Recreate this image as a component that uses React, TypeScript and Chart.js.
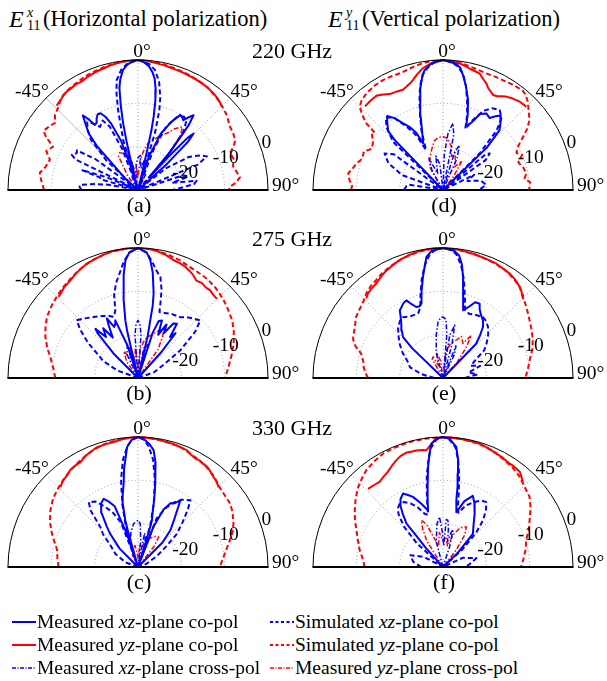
import React, { useEffect, useRef, useState } from "react";
import { Chart, registerables } from "chart.js";

Chart.register(...registerables);

type Pt = [number, number]; // [angle in degrees, normalized gain in dB]

// ---- radial scale ----
const DB_MIN = -30;
const DB_MAX = 0;
const RING_TICKS = [0, -10, -20];
const SPOKE_ANGLES = [-45, 0, 45];
const ANGLE_TICKS = [-45, 0, 45, 90];
const FREQ_LABELS = ["220 GHz", "275 GHz", "330 GHz"];
const PANEL_LETTERS = ["(a)", "(b)", "(c)", "(d)", "(e)", "(f)"];

// ---- (a) 220 GHz, E11x ----
const A_MXZ_CO: Pt[] = [[-90,-35],[-60,-32],[-48,-26],[-43,-16],[-41,-12.7],[-39,-11],[-36.5,-8.6],[-35,-10],[-33.5,-12],[-32,-11.8],[-30,-10.9],[-28,-10.2],[-26,-10.3],[-24,-11.5],[-22,-13.5],[-19,-18],[-16.5,-25],[-15,-30],[-14,-24],[-13.2,-18],[-12.5,-14],[-11.5,-10],[-10.3,-6],[-9,-4],[-7,-2],[-5,-1],[-2.5,-0.3],[0,0],[2.5,-0.4],[5,-1.3],[7,-2.6],[8.5,-4],[10,-6.5],[11,-9],[12,-12.5],[12.7,-16],[13,-20.5],[13.5,-26],[14.5,-30],[18,-22],[22,-16],[26,-12.5],[29.4,-10.1],[31.5,-10.4],[33,-10.8],[35,-9.5],[36.6,-8.5],[38,-11],[40,-18],[41.5,-26],[42.5,-20],[43.5,-13.5],[44.5,-11.7],[46,-14],[48,-21],[52,-30],[90,-35]];
const A_MYZ_CO: Pt[] = [[-44,-3],[-42.6,-2.8],[-40,-2.5],[-38,-2.1],[-36,-2],[-33,-1.9],[-30,-1.7],[-28,-1.8],[-26.4,-1.7],[-24,-1.4],[-22,-1.3],[-20,-1.1],[-17.6,-0.95],[-15,-0.8],[-12,-0.5],[-9.5,-0.35],[-7,-0.2],[-4,-0.1],[0,0],[4,-0.1],[8.5,-0.45],[12,-0.6],[15,-0.8],[18,-0.9],[21,-1],[24,-1.1],[28,-1.2],[31,-1.3],[34,-1.4],[38,-1.7],[41,-2],[43,-2.3],[45,-2.7]];
const A_SXZ_CO: Pt[] = [[-90,-17],[-87,-16.5],[-85,-16.5],[-82,-20],[-80,-23],[-77,-30],[-74,-21],[-72,-20.8],[-70.4,-16.2],[-68,-22],[-66,-30],[-64,-14],[-62,-12.7],[-59,-13.5],[-57,-13.2],[-54,-18],[-51,-30],[-47,-20],[-43,-14],[-40,-12],[-37,-10.5],[-34,-11.5],[-31,-13],[-27,-12],[-24,-14],[-21,-20],[-18.5,-30],[-16.5,-18],[-14,-11],[-12.5,-7],[-11,-4.2],[-8,-2],[-5,-0.8],[0,0],[5,-0.8],[8,-2],[11,-4.5],[13.5,-8],[15,-11],[16.5,-16],[18.5,-30],[21,-20],[24,-14],[28,-11],[32,-10],[35,-10.5],[38,-13],[41,-20],[45,-30],[52,-22],[57,-16],[61,-13.5],[64,-12.3],[67,-15],[69,-30],[72,-19],[75,-18],[78,-22],[81,-16.3],[84,-17],[87,-20],[90,-22]];
const A_SYZ_CO: Pt[] = [[-90,-8.3],[-88,-8.1],[-84,-7.5],[-80,-7],[-76,-8],[-71,-8.5],[-67,-7],[-63,-8],[-60,-5.5],[-58,-4.3],[-54,-4.8],[-51,-5.4],[-48,-4.2],[-44,-3.5],[-40,-2.4],[-35,-1.8],[-30,-1.5],[-25,-1.1],[-20,-0.8],[-15,-0.5],[-10,-0.3],[-5,-0.1],[0,0],[5,-0.1],[10,-0.3],[15,-0.6],[20,-0.8],[25,-1],[30,-1.2],[35,-1.5],[40,-2],[45,-2.6],[50,-3.2],[55,-4.2],[59,-4.4],[63,-4.8],[66,-6],[68,-7.1],[72,-6.8],[76,-7.4],[80,-6.8],[83,-6.3],[86,-7.5],[88,-8.8],[90,-9]];
const A_MXZ_X: Pt[] = [[-35,-30],[-25,-27],[-18,-25],[-12,-23.5],[-8,-27],[-4,-24],[0,-22.5],[4,-22],[8,-25],[12,-23],[16,-24.5],[20,-30],[26,-26],[32,-30]];
const A_MYZ_X: Pt[] = [[-45,-30],[-36,-26],[-30,-21],[-26,-20.4],[-21,-21],[-16,-20.4],[-12,-24],[-8,-30],[-4,-25],[0,-27],[4,-23],[8,-21],[12,-19],[17,-17.9],[22,-16.5],[27,-15.3],[31,-13.5],[35,-12.2],[38,-14],[40,-19],[43,-30]];

// ---- (b) 275 GHz, E11x ----
const B_MXZ_CO: Pt[] = [[-90,-35],[-50,-30],[-45,-22],[-42,-16],[-40.9,-15],[-38,-18],[-35,-16],[-32,-19],[-29,-16],[-27.6,-14.5],[-25,-17],[-23,-16.5],[-21.5,-15.7],[-18,-22],[-15,-30],[-13,-19],[-12.4,-16.4],[-10.5,-12],[-9.6,-10.3],[-8,-6],[-6.1,-2.7],[-4,-1],[0,0],[4,-1],[6,-2.7],[8,-5.5],[10.5,-10.2],[11.5,-13],[12,-16.4],[13,-20],[15,-30],[18,-19],[20,-16],[22.6,-15.6],[25,-19],[28,-16],[30,-18],[33,-15],[35.7,-14.6],[38,-18],[40,-16.5],[42,-22],[45,-30],[90,-35]];
const B_MYZ_CO: Pt[] = [[-44.4,-3.8],[-42,-3.5],[-39,-3],[-34.7,-2.6],[-31,-2],[-28,-1.6],[-24,-1.1],[-20,-0.8],[-16,-0.5],[-12.4,-0.2],[-8,-0.1],[-4,0],[0,0],[4,-0.1],[8,-0.3],[12,-0.8],[14.5,-1.2],[16.9,-1.6],[20,-1.8],[23,-2.1],[25.2,-2.5],[28,-3],[31,-3.8],[34,-3.6],[37,-3.9],[39.5,-3.8],[42,-4.1],[44.9,-4.2]];
const B_SXZ_CO: Pt[] = [[-90,-30],[-70,-25],[-64,-21],[-61,-20],[-55,-16],[-50,-12.5],[-46.6,-10.6],[-42,-11.5],[-36,-12.6],[-30,-13.5],[-25,-14.2],[-21.8,-14.8],[-19.5,-14],[-18.5,-13.5],[-16,-10],[-13,-7.5],[-10,-5.5],[-7,-3],[-4,-1],[0,0],[4,-1],[7,-3],[10,-5],[12.5,-6.1],[15,-9],[16.7,-12],[18,-14],[22,-13.8],[28,-13.3],[34.8,-12.9],[40,-11.8],[47.2,-10.4],[51,-13],[56.8,-18.3],[62,-23],[70,-26],[90,-30]];
const B_SYZ_CO: Pt[] = [[-90,-10.9],[-84,-10.4],[-80,-9.8],[-76.5,-9.2],[-72,-8],[-66,-6.6],[-61,-5.6],[-56.2,-4.7],[-50,-4],[-44.4,-3.4],[-40,-2.9],[-35,-2.4],[-30,-1.8],[-25,-1.2],[-20,-0.8],[-15,-0.4],[-10,-0.2],[-5,0],[0,0],[5,-0.1],[10,-0.4],[15,-0.8],[20,-1.2],[23.5,-1.6],[28,-1.9],[31,-2],[34.8,-2.1],[40,-2.5],[44,-2.9],[47.8,-3.3],[52,-3.8],[58.5,-4.5],[64,-5.4],[70,-6.5],[75,-7.5],[79,-8.3],[84,-9.1],[89,-9.8],[90,-9.8]];
const B_MXZ_X: Pt[] = [[-35,-30],[-25,-24],[-18,-22],[-12,-25],[-7,-30],[-4,-20],[-2,-17.5],[0,-16.7],[2,-17.5],[4,-20],[7,-30],[11,-23],[16,-22],[22,-30]];
const B_MYZ_X: Pt[] = [[-45,-30],[-35,-25.5],[-28,-23],[-22,-25],[-15,-22.5],[-10,-26],[-5,-23],[0,-28],[5,-23],[10,-21],[15,-20],[20,-19],[24,-18],[27.5,-17.2],[31,-19],[35,-22],[40,-30]];

// ---- (c) 330 GHz, E11x ----
const C_MXZ_CO: Pt[] = [[-90,-35],[-55,-30],[-45,-24],[-40,-20],[-37.8,-18.3],[-34,-15],[-30,-13],[-26.7,-12.4],[-24,-13.5],[-21,-15],[-18.5,-22],[-17,-30],[-15.8,-22],[-15.2,-18.8],[-13.5,-15],[-12,-13],[-9.8,-10.5],[-8,-7],[-5.2,-2.2],[-3,-0.7],[0,0],[3,-0.6],[5.5,-1.6],[7.6,-2.8],[9.5,-5.5],[11.7,-10.4],[13.5,-14],[15,-17],[16.7,-18.8],[17.5,-24],[19,-30],[21,-20],[24,-15.5],[27,-13.5],[30,-13],[32.4,-11.8],[34,-13.5],[37,-16],[41.4,-18.7],[45,-22],[50,-30],[90,-35]];
const C_MYZ_CO: Pt[] = [[-44.2,-4.3],[-41,-3.6],[-38,-3.3],[-35,-2.7],[-32,-2.5],[-28.8,-2.4],[-25,-1.6],[-22,-1.2],[-18.9,-0.8],[-15,-0.7],[-11,-0.6],[-7,-0.3],[-3,-0.1],[0,0],[4,-0.1],[8,-0.2],[13,-0.4],[17,-0.5],[20,-0.7],[22.8,-0.8],[25,-1.3],[27.9,-1.7],[30,-1.6],[32,-1.8],[34.6,-1.9],[37,-2.3],[40,-2.9],[42.5,-3.2],[45.2,-3.8]];
const C_SXZ_CO: Pt[] = [[-90,-30],[-70,-27],[-60,-24],[-52,-22],[-47,-19],[-43.3,-17.3],[-40,-13],[-37.2,-11.2],[-33,-12],[-29,-14],[-25,-16],[-21,-19],[-18.5,-28],[-16.5,-20],[-14,-15],[-11,-9.5],[-8,-5],[-5,-2],[-2.5,-0.5],[0,0],[2.5,-0.5],[5,-2],[8,-5],[11,-9.5],[14,-15],[16.5,-20],[18.5,-28],[21,-18],[25,-15],[29,-13],[33,-11.5],[38.1,-10.4],[41,-12.5],[45,-15.5],[49.5,-18.2],[54,-22],[60,-25],[70,-28],[90,-30]];
const C_SYZ_CO: Pt[] = [[-90,-11.7],[-84,-11.3],[-78,-10.9],[-73,-9.8],[-68.8,-8.7],[-63,-7.2],[-57,-5.9],[-51,-4.8],[-46,-4.2],[-42,-3.7],[-38,-3.2],[-34,-2.7],[-30,-2.2],[-25,-1.6],[-20,-1],[-15,-0.6],[-10,-0.3],[-5,-0.1],[0,0],[5,-0.1],[10,-0.3],[15,-0.5],[20,-0.7],[25,-1.2],[30,-1.6],[35,-2.1],[40,-2.7],[45,-3.6],[50,-4],[55.6,-4.2],[60,-4.8],[65.6,-5.8],[70,-6.8],[75.6,-8.4],[80,-9.5],[85,-10.4],[88.8,-11],[90,-11]];
const C_MXZ_X: Pt[] = [[-30,-30],[-20,-25],[-12,-22],[-6,-20],[-2,-19.5],[0,-19.2],[3,-20],[6,-24],[8,-30],[11,-22],[14,-23],[18,-25],[22,-30]];
const C_MYZ_X: Pt[] = [[-35,-30],[-25,-27],[-15,-26],[-8,-25],[-3,-27],[0,-28],[5,-25],[10,-25.5],[15,-24],[20,-23],[25,-22.5],[30,-21.8],[34.6,-21.6],[38,-24],[42,-30]];

// ---- (d) 220 GHz, E11y ----
const D_MXZ_CO: Pt[] = [[-90,-35],[-50,-30],[-44,-14],[-43,-11.5],[-40,-10],[-37,-8.6],[-34,-10],[-31,-12],[-28,-13.5],[-25,-15.5],[-23,-18.3],[-20,-16],[-17,-12.5],[-15,-9.5],[-12.5,-6],[-10,-3],[-8.7,-2],[-5.3,-0.7],[0,0],[6,-0.7],[8,-1.5],[9.9,-3.1],[12.5,-5.5],[15.5,-8.4],[18,-11.5],[20,-14.4],[23,-13],[26,-10.5],[29.5,-9.7],[33,-10.2],[35,-9.3],[37.5,-8.3],[40,-9.3],[43.4,-11],[46,-16],[50,-30],[90,-35]];
const D_MYZ_CO: Pt[] = [[-43,-3.6],[-40,-3.5],[-37,-3.4],[-35,-3.4],[-32,-4],[-29,-4.7],[-25,-4.9],[-21.8,-5.1],[-19,-4.6],[-17,-4.2],[-15.3,-3.7],[-13,-2.8],[-11,-2.1],[-9.3,-1.5],[-7,-1],[-4,-0.4],[-2,-0.1],[0,0],[2,-0.1],[5,-0.3],[8,-0.6],[10.7,-1],[13,-1.4],[17.4,-1.8],[20,-2.8],[22,-3.4],[24,-4.3],[27.8,-5.2],[30,-5],[32,-4.5],[34,-4],[37,-3.5],[41,-3],[45,-2.8]];
const D_SXZ_CO: Pt[] = [[-90,-21],[-84,-21.5],[-81,-22],[-76,-30],[-70,-20],[-64,-16],[-58,-14.1],[-54,-16],[-51,-30],[-46,-14],[-42,-10.5],[-38,-8.6],[-34,-10],[-30,-13],[-26,-16],[-23,-20],[-20,-15.5],[-17,-12],[-15,-9],[-12.5,-5.5],[-10,-3],[-7,-1.5],[-4,-0.5],[0,0],[4,-0.5],[7,-1.3],[10,-3],[12.5,-5.5],[15,-8.5],[18,-12],[20,-15],[23,-12.5],[27,-9.5],[31,-8],[35.3,-7.4],[39,-8.5],[42,-11.5],[45,-18],[48,-30],[50,-17],[52,-16.3],[55,-18],[58,-30],[64,-22],[70,-24],[76,-21],[83,-20],[87,-21],[90,-22]];
const D_SYZ_CO: Pt[] = [[-90,-8.8],[-87,-9],[-84,-8.3],[-80,-7.8],[-77,-8.5],[-73,-9.1],[-69,-10],[-64,-9.7],[-60,-11],[-56,-10.5],[-52,-9.2],[-50,-9.5],[-49,-6.5],[-47,-4.5],[-45,-2.8],[-42,-2],[-38,-1.5],[-33,-1.2],[-28.6,-1.1],[-24,-1.2],[-20,-1.3],[-16,-1],[-12,-0.6],[-8,-0.3],[-4,-0.1],[0,0],[4,-0.1],[8,-0.4],[12,-0.8],[16,-1.1],[20.4,-1.3],[25,-1.2],[30,-1.1],[34,-0.8],[38.7,-0.6],[41,-0.9],[44,-1.8],[47,-3],[51,-4.3],[54,-6],[56,-7.5],[58.7,-9.3],[61,-10.5],[63.4,-11],[66,-10],[70,-11.5],[74,-10.8],[78.7,-10.4],[82,-11],[85,-9.8],[88,-10],[90,-10.2]];
const D_MXZ_X: Pt[] = [[-40,-30],[-30,-25],[-24,-22],[-18,-26],[-12,-22],[-7,-24],[-3,-30],[2,-22],[5,-17],[8.5,-14.4],[11,-17],[13,-30],[17,-21],[20,-19],[24,-22],[28,-30]];
const D_MYZ_X: Pt[] = [[-40,-30],[-30,-24],[-22,-22],[-16,-20.4],[-10,-18.5],[-5,-17.8],[0,-17.7],[5,-18],[11,-19.8],[14,-22],[18,-21],[22,-22.5],[27,-24],[33,-22],[38,-26],[45,-30]];

// ---- (e) 275 GHz, E11y ----
const E_MXZ_CO: Pt[] = [[-90,-35],[-55,-30],[-46,-20],[-44.3,-16.8],[-41,-15.5],[-37.5,-14.2],[-35,-13],[-32.6,-11.5],[-28,-10.5],[-25.3,-10.2],[-23,-11.5],[-20.6,-12.5],[-18,-12.6],[-16.2,-12.1],[-14,-9.5],[-11.2,-6.2],[-9,-3.5],[-7.8,-1.8],[-5,-0.5],[0,0],[5,-0.5],[7.5,-1.5],[9.5,-3.5],[11.2,-6.2],[13.5,-10],[16.5,-13.7],[20,-12.5],[23,-11],[26.3,-10.9],[28,-12],[31,-13],[34.7,-13.8],[38,-15],[41,-17],[44,-19],[48,-30],[90,-35]];
const E_MYZ_CO: Pt[] = [[-44,-4.5],[-42,-4],[-39,-3.6],[-35.2,-3.3],[-31,-2.5],[-28,-2],[-24,-1.5],[-20,-1],[-16,-0.6],[-12,-0.3],[-8,-0.1],[-4,0],[0,0],[4,-0.1],[7,-0.2],[10.5,-0.4],[14,-0.5],[18,-0.7],[21.6,-0.8],[25,-0.9],[29,-1.2],[32.6,-1.4],[36,-1.8],[39,-2.3],[41.8,-2.9],[43.5,-3.5],[45.2,-4]];
const E_SXZ_CO: Pt[] = [[-90,-28],[-80,-25],[-72,-22],[-65,-21],[-58,-19],[-51.6,-17.2],[-47,-16],[-42,-14.5],[-37,-13.5],[-33.3,-13.2],[-29,-13.8],[-25,-14],[-21,-14],[-18,-13],[-15,-10],[-12,-6.5],[-9,-3.5],[-6,-1.2],[-3,-0.3],[0,0],[3,-0.3],[6,-1.2],[9,-3.5],[12,-6.8],[15,-10.5],[18,-13.5],[22,-14],[27,-13.6],[33.3,-13.2],[37,-13.5],[41.4,-14.3],[46,-15.5],[51,-17],[56,-18.5],[60,-21],[66,-23],[72,-21],[78,-24],[84,-22],[90,-25]];
const E_SYZ_CO: Pt[] = [[-90,-12.7],[-86,-12],[-82,-11.5],[-78,-11.2],[-75,-10.5],[-73.4,-10.3],[-70,-8.5],[-67,-7.5],[-65.5,-7.2],[-62,-6.8],[-60,-6.5],[-55,-5.5],[-50,-5],[-46,-4.5],[-42,-3.6],[-38,-3],[-34,-2.6],[-30,-2],[-25,-1.5],[-20,-1],[-15,-0.6],[-10,-0.3],[-5,-0.1],[0,0],[5,-0.1],[10,-0.4],[15,-0.6],[20,-0.8],[25,-1],[30,-1.3],[35,-1.8],[40,-2.5],[45,-3.8],[50,-4.8],[56.4,-6],[62,-6.8],[67,-7.5],[72,-8.3],[78.5,-9.6],[84,-10.3],[88,-10.8],[90,-10.8]];
const E_MXZ_X: Pt[] = [[-25,-30],[-15,-24],[-9,-20],[-5,-17],[-2,-16],[0,-15.9],[3,-16.5],[5,-20],[6.5,-28],[9,-20],[12.5,-17.5],[15,-22],[18,-30],[22,-22],[26,-24],[30,-30]];
const E_MYZ_X: Pt[] = [[-40,-30],[-30,-25],[-25,-24.6],[-20,-27],[-14,-24],[-8,-26],[0,-30],[6,-24],[12,-22],[18,-21],[24,-19.5],[30,-20.8],[33.6,-18.2],[37,-21],[42,-25],[48,-30]];

// ---- (f) 330 GHz, E11y ----
const F_MXZ_CO: Pt[] = [[-90,-35],[-50,-30],[-42,-24],[-40.4,-19.9],[-40,-16.9],[-37,-14.5],[-35,-13],[-32,-11.5],[-28.6,-10.7],[-26,-11.5],[-23.2,-12.4],[-19,-14.5],[-16,-16],[-14.8,-16.5],[-13.5,-15],[-12.7,-14.2],[-11,-11],[-8.5,-6.7],[-7,-4],[-5.4,-1.4],[-3,-0.4],[0,0],[3,-0.4],[6.3,-2.1],[8,-5],[9.1,-8.2],[10.2,-11],[11.3,-14.3],[12.5,-16],[14,-17],[18,-14],[22.7,-12.2],[26,-13.5],[30.7,-15.7],[36,-18],[42,-19.7],[46,-25],[50,-30],[90,-35]];
const F_MYZ_CO: Pt[] = [[-43.8,-5],[-40,-5.3],[-36.7,-5.5],[-33,-5],[-30,-4.6],[-27,-3.9],[-24,-3.2],[-21,-2.6],[-18,-2.3],[-15,-2.4],[-12.9,-2.4],[-10,-2.6],[-8.1,-2.8],[-6,-1.8],[-3.8,-0.7],[-2,-0.2],[0,0],[4,-0.1],[8,-0.2],[12,-0.25],[16.6,-0.3],[20,-0.6],[23,-0.9],[25.2,-1.1],[28,-1.2],[30,-1.4],[32.8,-1.6],[35,-1.6],[37,-1.7],[39,-1.8],[41,-2.4],[43.3,-3.1]];
const F_SXZ_CO: Pt[] = [[-90,-25],[-80,-23],[-70,-22],[-62,-25],[-55,-30],[-48,-22],[-44,-17],[-40,-14],[-37,-12.8],[-34.4,-12.3],[-31,-12.5],[-27,-13.5],[-23,-15],[-19,-17],[-16,-17.5],[-14,-15],[-12,-12],[-10,-8.5],[-8,-5.5],[-6,-2.5],[-3,-0.6],[0,0],[3,-0.6],[6,-2.3],[8,-5],[10,-8.5],[12,-12.5],[14,-16],[16,-17],[20,-15],[25,-13.5],[30,-12.3],[33.7,-12],[37,-13.5],[40.6,-15.8],[44,-19],[48,-24],[55,-30],[65,-25],[75,-22],[85,-24],[90,-25]];
const F_SYZ_CO: Pt[] = [[-90,-11.9],[-85,-11.5],[-78.7,-10.4],[-72,-9.3],[-67,-8.3],[-62,-7],[-57.3,-5.8],[-52,-4.4],[-46.7,-3.1],[-42,-2.2],[-38.4,-1.5],[-33,-0.9],[-27.9,-0.4],[-22,-0.3],[-15,-0.15],[-8,-0.1],[0,0],[5,-0.1],[10,-0.2],[15,-0.4],[20,-0.6],[25,-1],[30,-1.6],[35,-2],[40,-2.6],[45,-3.5],[51,-4.3],[56,-5.6],[61.7,-7.3],[66,-8.3],[72,-9.8],[78,-10.5],[84,-11.3],[89,-11.9],[90,-11.9]];
const F_MXZ_X: Pt[] = [[-25,-30],[-15,-24],[-8,-20],[-4,-18.4],[-1,-22],[2,-25],[4,-19],[6,-19.2],[8,-21],[10,-24],[13,-22],[15,-21],[18,-25],[22,-30]];
const F_MYZ_X: Pt[] = [[-40,-30],[-32,-23],[-28,-20],[-24.9,-18.1],[-21,-19.5],[-17,-23],[-12,-25],[-6,-22],[0,-24],[6,-23],[12,-25],[18,-22],[24,-20],[30.3,-19.3],[34,-21],[38,-25],[42,-30]];

// ---- series styles (order = draw priority, first on top) ----
const BLUE = "#0000ff";
const RED = "#ff0000";
const SERIES_STYLES = [
  { color: BLUE, width: 2, dash: [] as number[] },       // Measured xz co-pol
  { color: RED, width: 2, dash: [] as number[] },        // Measured yz co-pol
  { color: BLUE, width: 2, dash: [5, 3] },               // Simulated xz co-pol
  { color: RED, width: 2, dash: [5, 3] },                // Simulated yz co-pol
  { color: BLUE, width: 1.5, dash: [5, 2, 1.5, 2] },     // Measured xz cross-pol
  { color: RED, width: 1.5, dash: [5, 2, 1.5, 2] },      // Measured yz cross-pol
];

const PANELS = [
  { cx: 138, cy: 190, letter: PANEL_LETTERS[0], series: [A_MXZ_CO, A_MYZ_CO, A_SXZ_CO, A_SYZ_CO, A_MXZ_X, A_MYZ_X], solidSpoke: -45 },
  { cx: 138, cy: 378, letter: PANEL_LETTERS[1], series: [B_MXZ_CO, B_MYZ_CO, B_SXZ_CO, B_SYZ_CO, B_MXZ_X, B_MYZ_X], solidSpoke: null },
  { cx: 138, cy: 567, letter: PANEL_LETTERS[2], series: [C_MXZ_CO, C_MYZ_CO, C_SXZ_CO, C_SYZ_CO, C_MXZ_X, C_MYZ_X], solidSpoke: null },
  { cx: 443, cy: 190, letter: PANEL_LETTERS[3], series: [D_MXZ_CO, D_MYZ_CO, D_SXZ_CO, D_SYZ_CO, D_MXZ_X, D_MYZ_X], solidSpoke: null },
  { cx: 443, cy: 378, letter: PANEL_LETTERS[4], series: [E_MXZ_CO, E_MYZ_CO, E_SXZ_CO, E_SYZ_CO, E_MXZ_X, E_MYZ_X], solidSpoke: null },
  { cx: 443, cy: 567, letter: PANEL_LETTERS[5], series: [F_MXZ_CO, F_MYZ_CO, F_SXZ_CO, F_SYZ_CO, F_MXZ_X, F_MYZ_X], solidSpoke: null },
];

const LEGEND_ITEMS = [
  { pre: "Measured ", it: "xz", post: "-plane co-pol", style: 0, col: 0, row: 0 },
  { pre: "Measured ", it: "yz", post: "-plane co-pol", style: 1, col: 0, row: 1 },
  { pre: "Measured ", it: "xz", post: "-plane cross-pol", style: 4, col: 0, row: 2 },
  { pre: "Simulated ", it: "xz", post: "-plane co-pol", style: 2, col: 1, row: 0 },
  { pre: "Simulated ", it: "yz", post: "-plane co-pol", style: 3, col: 1, row: 1 },
  { pre: "Measured ", it: "yz", post: "-plane cross-pol", style: 5, col: 1, row: 2 },
];

const FAMILY = "'Liberation Serif', 'Times New Roman', serif";
const TICK_SIZE = 19.5;

// geometry of a panel canvas (pixels); one data unit = radius of 0 dB ring
const R_PX = 130;
const CW = 360;
const CH = 185;
const C_LEFT = 180;
const C_TOP = 165;

const toXY = ([deg, db]: Pt) => {
  const r = Math.max(0, Math.min(1, (db - DB_MIN) / (DB_MAX - DB_MIN)));
  const t = (deg * Math.PI) / 180;
  return { x: r * Math.sin(t), y: r * Math.cos(t) };
};
const ringFrac = (v: number) => (v - DB_MIN) / (DB_MAX - DB_MIN);

const polarGrid = {
  id: "polarGrid",
  beforeDatasetsDraw(chart: any, _a: any, opts: any) {
    const { ctx } = chart;
    const xs = chart.scales.x;
    const ys = chart.scales.y;
    const cx = xs.getPixelForValue(0);
    const cy = ys.getPixelForValue(0);
    const R = xs.getPixelForValue(1) - cx;
    ctx.save();
    ctx.strokeStyle = "#9a9a9a";
    ctx.lineWidth = 1;
    ctx.setLineDash([1, 2.5]);
    for (const v of RING_TICKS) {
      if (v <= DB_MIN || v >= DB_MAX) continue;
      ctx.beginPath();
      ctx.arc(cx, cy, R * ringFrac(v), Math.PI, 2 * Math.PI);
      ctx.stroke();
    }
    for (const a of SPOKE_ANGLES) {
      const t = (a * Math.PI) / 180;
      const solid = opts && opts.solidSpoke === a;
      ctx.save();
      if (solid) {
        ctx.setLineDash([]);
        ctx.strokeStyle = "#bdbdbd";
      }
      ctx.beginPath();
      ctx.moveTo(cx, cy);
      ctx.lineTo(cx + R * Math.sin(t), cy - R * Math.cos(t));
      ctx.stroke();
      ctx.restore();
    }
    ctx.restore();
  },
  afterDatasetsDraw(chart: any) {
    const { ctx } = chart;
    const xs = chart.scales.x;
    const ys = chart.scales.y;
    const cx = xs.getPixelForValue(0);
    const cy = ys.getPixelForValue(0);
    const R = xs.getPixelForValue(1) - cx;
    ctx.save();
    ctx.setLineDash([]);
    ctx.strokeStyle = "#000";
    ctx.lineWidth = 1;
    ctx.beginPath();
    ctx.arc(cx, cy, R, Math.PI, 2 * Math.PI);
    ctx.stroke();
    ctx.lineWidth = 2;
    ctx.beginPath();
    ctx.moveTo(cx - R - 0.5, cy);
    ctx.lineTo(cx + R + 0.5, cy);
    ctx.stroke();
    ctx.restore();
  },
};

type Label = { text: string; x: number; y: number; mode: "center" | "baseline-left" | "zero" };

function PolarPanel({ panel }: { panel: (typeof PANELS)[number] }) {
  const ref = useRef<HTMLCanvasElement | null>(null);
  const [labels, setLabels] = useState<Label[]>([]);
  useEffect(() => {
    if (!ref.current) return;
    const chart = new Chart(ref.current, {
      type: "scatter",
      data: {
        datasets: panel.series.map((s, i) => ({
          data: s.map(toXY),
          showLine: true,
          borderColor: SERIES_STYLES[i].color,
          backgroundColor: SERIES_STYLES[i].color,
          borderWidth: SERIES_STYLES[i].width,
          borderDash: SERIES_STYLES[i].dash,
          pointRadius: 0,
          pointHoverRadius: 0,
          fill: false,
          tension: 0,
          borderJoinStyle: "round",
        })),
      },
      options: {
        animation: false,
        responsive: false,
        devicePixelRatio: 1,
        events: [],
        layout: { padding: 0 },
        plugins: {
          legend: { display: false },
          tooltip: { enabled: false },
          // @ts-ignore
          polarGrid: { solidSpoke: panel.solidSpoke },
        },
        scales: {
          x: { type: "linear", min: -C_LEFT / R_PX, max: (CW - C_LEFT) / R_PX, display: false },
          y: { type: "linear", min: -(CH - C_TOP) / R_PX, max: C_TOP / R_PX, display: false },
        },
      },
      plugins: [polarGrid as any],
    } as any);
    // tick label positions taken from the chart's own scales
    const xs: any = chart.scales.x;
    const ys: any = chart.scales.y;
    const cx = xs.getPixelForValue(0);
    const cy = ys.getPixelForValue(0);
    const R = xs.getPixelForValue(1) - cx;
    const out: Label[] = [];
    for (const a of ANGLE_TICKS) {
      if (a === 0) out.push({ text: "0°", x: cx, y: cy - R - 3, mode: "zero" });
      else if (a === 90) out.push({ text: "90°", x: cx + R + 4, y: cy + 1, mode: "baseline-left" });
      else {
        const t = ((a > 0 ? 47 : -47) * Math.PI) / 180;
        const rr = R + 15;
        out.push({ text: `${a}°`, x: cx + rr * Math.sin(t), y: cy - rr * Math.cos(t), mode: "center" });
      }
    }
    const tl = (69.5 * Math.PI) / 180;
    for (const v of RING_TICKS) {
      const r = R * ringFrac(v) + 7;
      out.push({ text: String(v), x: cx + r * Math.sin(tl), y: cy - r * Math.cos(tl), mode: "center" });
    }
    setLabels(out);
    return () => chart.destroy();
  }, [panel]);
  return (
    <div style={{ position: "absolute", left: panel.cx - C_LEFT, top: panel.cy - C_TOP, width: CW, height: CH }}>
      <canvas ref={ref} width={CW} height={CH} style={{ position: "absolute", left: 0, top: 0, width: CW, height: CH }} />
      {labels.map((l, i) => {
        const base: any = {
          position: "absolute",
          fontSize: TICK_SIZE,
          lineHeight: `${TICK_SIZE}px`,
          fontFamily: FAMILY,
          whiteSpace: "nowrap",
          color: "#000",
        };
        if (l.mode === "center") {
          base.left = l.x;
          base.top = l.y;
          base.transform = "translate(-50%, -50%)";
        } else {
          base.top = l.y - 0.8375 * TICK_SIZE;
          base.left = l.mode === "zero" ? l.x - 0.25 * TICK_SIZE : l.x;
        }
        return (
          <div key={i} style={base}>
            {l.text}
          </div>
        );
      })}
    </div>
  );
}

function Txt({ x, y, size, children, center, italic }: any) {
  return (
    <div
      style={{
        position: "absolute",
        left: x,
        top: y - 0.8375 * size,
        fontSize: size,
        lineHeight: `${size}px`,
        fontFamily: FAMILY,
        fontStyle: italic ? "italic" : "normal",
        whiteSpace: "nowrap",
        color: "#000",
        transform: center ? "translateX(-50%)" : undefined,
      }}
    >
      {children}
    </div>
  );
}

function Title({ x, sup, text }: { x: number; sup: string; text: string }) {
  return (
    <>
      <Txt x={x} y={27} size={24} italic>E</Txt>
      <Txt x={x + 18} y={18} size={14} italic>{sup}</Txt>
      <Txt x={x + 18} y={31} size={14}>11</Txt>
      <Txt x={x + 34} y={27} size={22.5}>{text}</Txt>
    </>
  );
}

function LegendSample({ x, y, style }: { x: number; y: number; style: number }) {
  const s = SERIES_STYLES[style];
  const dash = s.dash.length ? (style >= 4 ? "4 1.5 1 1.5" : "3 2.5") : undefined;
  return (
    <svg style={{ position: "absolute", left: x, top: y - 3 }} width={24} height={6}>
      <line x1={0} y1={3} x2={24} y2={3} stroke={s.color} strokeWidth={s.width} strokeDasharray={dash} />
    </svg>
  );
}

export default function App() {
  return (
    <div style={{ position: "fixed", left: 0, top: 0, width: 607, height: 681, background: "#fff", overflow: "hidden", fontFamily: FAMILY }}>
      <Title x={9} sup="x" text="(Horizontal polarization)" />
      <Title x={328} sup="y" text="(Vertical polarization)" />
      {PANELS.map((p, i) => (
        <PolarPanel key={i} panel={p} />
      ))}
      {FREQ_LABELS.map((f, i) => (
        <Txt key={f} x={252} y={PANELS[i].cy - 132} size={22}>{f}</Txt>
      ))}
      {PANELS.map((p, i) => (
        <Txt key={"l" + i} x={p.cx + 1} y={p.cy + 22} size={22} center>{p.letter}</Txt>
      ))}
      {LEGEND_ITEMS.map((it, i) => {
        const lx = it.col === 0 ? 12 : 270;
        const by = 628 + it.row * 23;
        return (
          <React.Fragment key={"lg" + i}>
            <LegendSample x={lx} y={by - 6} style={it.style} />
            <Txt x={lx + 25} y={by} size={19.5}>
              {it.pre}
              <i>{it.it}</i>
              {it.post}
            </Txt>
          </React.Fragment>
        );
      })}
    </div>
  );
}
